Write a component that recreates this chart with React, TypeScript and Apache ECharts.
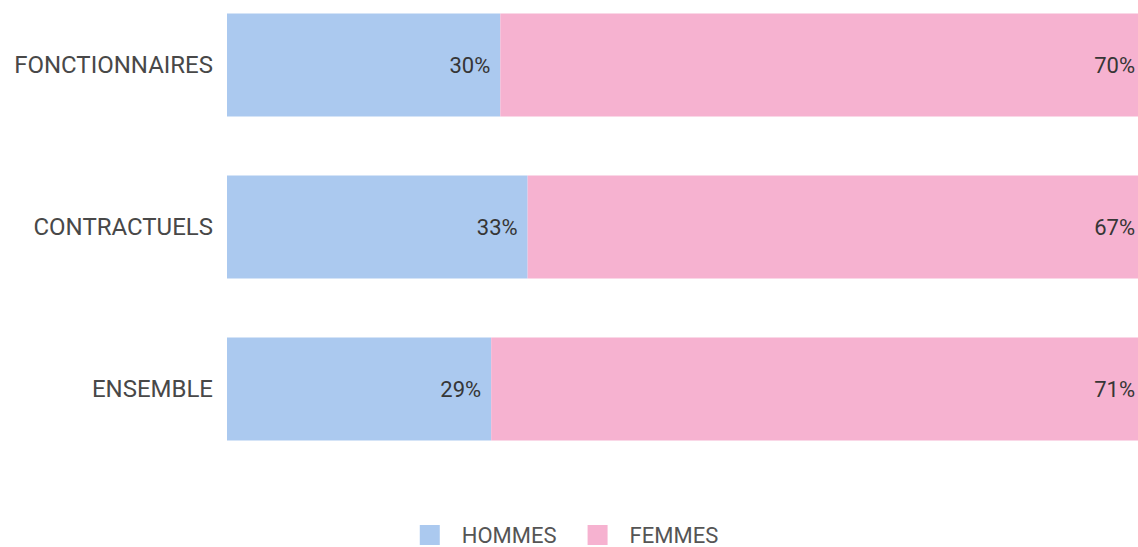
import React, { useEffect, useRef } from "react";
import * as echarts from "echarts";

const categories = ["FONCTIONNAIRES", "CONTRACTUELS", "ENSEMBLE"];
const hommes = [30, 33, 29];
const femmes = [70, 67, 71];
const seriesNames = ["HOMMES", "FEMMES"];

export default function App() {
  const ref = useRef<HTMLDivElement>(null);
  useEffect(() => {
    if (!ref.current) return;
    const chart = echarts.init(ref.current, null, { renderer: "svg" });
    const font = "Roboto, 'Noto Sans', sans-serif";
    chart.setOption({
      animation: false,
      textStyle: { fontFamily: font },
      grid: { left: 227, top: 0, width: 913, height: 486, containLabel: false },
      xAxis: { type: "value", min: 0, max: 100, show: false },
      yAxis: {
        type: "category",
        data: categories,
        inverse: true,
        axisLine: { show: false },
        axisTick: { show: false },
        axisLabel: { color: "#484848", fontSize: 24, margin: 14, fontFamily: font },
      },
      legend: {
        top: 535,
        left: "center",
        itemWidth: 20,
        itemHeight: 20,
        itemGap: 31,
        icon: "rect",
        textStyle: {
          color: "#555",
          fontSize: 22,
          lineHeight: 22,
          fontFamily: font,
          padding: [0, 0, 0, 17],
        },
        data: seriesNames,
      },
      series: [
        {
          name: seriesNames[0],
          type: "bar",
          stack: "total",
          barWidth: 103,
          data: hommes,
          itemStyle: { color: "#abc9ef" },
          label: {
            show: true,
            position: "insideRight",
            distance: 10,
            formatter: "{c}%",
            color: "#363636",
            fontSize: 22,
            fontFamily: font,
          },
        },
        {
          name: seriesNames[1],
          type: "bar",
          stack: "total",
          barWidth: 103,
          data: femmes,
          itemStyle: { color: "#f6b2d0" },
          label: {
            show: true,
            position: "insideRight",
            distance: 3,
            formatter: "{c}%",
            color: "#363636",
            fontSize: 22,
            fontFamily: font,
          },
        },
      ],
    });
    return () => chart.dispose();
  }, []);
  return (
    <div style={{ position: "absolute", left: 0, top: 0, width: 1138, height: 547, overflow: "hidden" }}>
      <div ref={ref} style={{ width: 1138, height: 563, position: "absolute", left: 0, top: -16 }} />
    </div>
  );
}
